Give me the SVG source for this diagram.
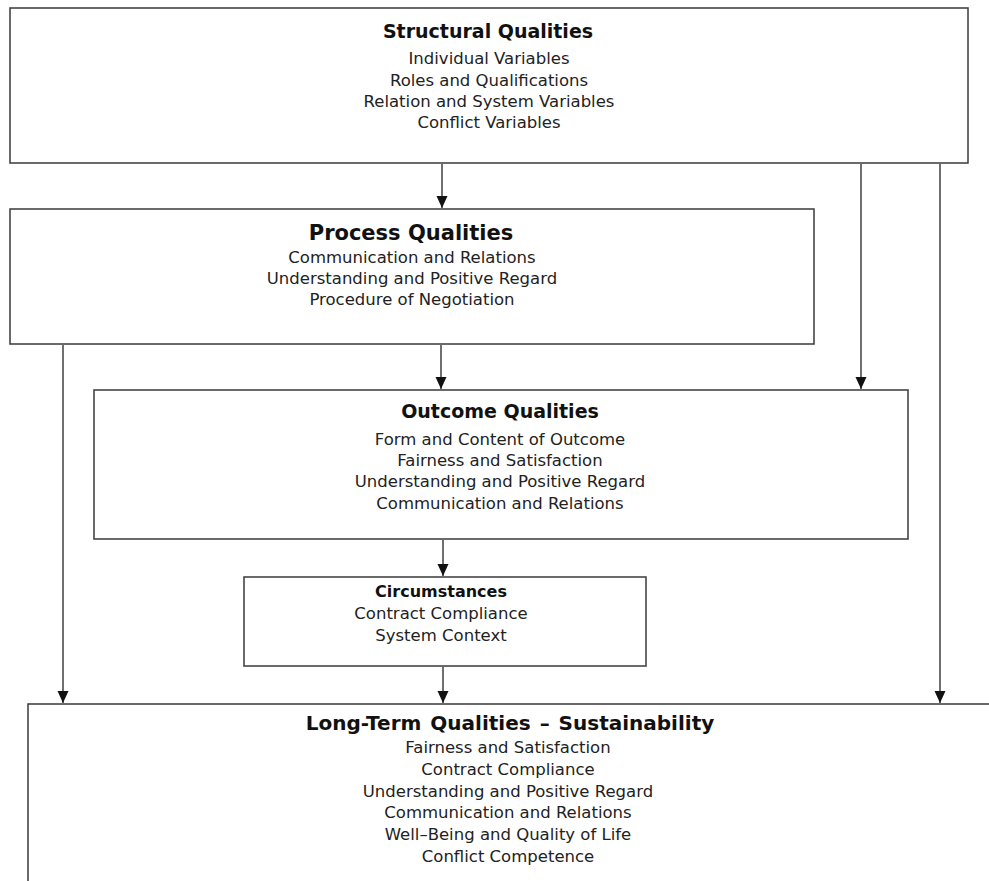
<svg xmlns="http://www.w3.org/2000/svg" width="989" height="881" viewBox="0 0 989 881">
<defs>
<style>
.box{fill:#fff;stroke:#3a3a3a;stroke-width:1.5}
.t{font-family:"DejaVu Sans","Liberation Sans",sans-serif;fill:#111;text-anchor:middle}
.h{font-weight:bold}
.s{font-size:16.5px;fill:#222}
.conn line{stroke:#333;stroke-width:1.4}
</style>
<marker id="ah" markerUnits="userSpaceOnUse" markerWidth="12" markerHeight="12" viewBox="0 0 12 12" refX="6" refY="12" orient="auto-start-reverse">
<path d="M0.5,0 L11.5,0 L6,12 Z" fill="#111" transform="rotate(-90 6 6)"/>
</marker>
<marker id="dn" markerUnits="userSpaceOnUse" markerWidth="12" markerHeight="12" viewBox="0 0 12 12" refX="6" refY="12" orient="0">
<path d="M0.5,0 L11.5,0 L6,12 Z" fill="#111"/>
</marker>
</defs>
<rect width="989" height="881" fill="#fff"/>

<g id="structural">
<rect class="box" x="10" y="8" width="958" height="155"/>
<text class="t h" x="488" y="38" font-size="19">Structural Qualities</text>
<text class="t s" x="489" y="64">Individual Variables</text>
<text class="t s" x="489" y="86">Roles and Qualifications</text>
<text class="t s" x="489" y="107">Relation and System Variables</text>
<text class="t s" x="489" y="128">Conflict Variables</text>
</g>

<g id="process">
<rect class="box" x="10" y="209" width="804" height="135"/>
<text class="t h" x="411" y="240" font-size="21">Process Qualities</text>
<text class="t s" x="412" y="263">Communication and Relations</text>
<text class="t s" x="412" y="284">Understanding and Positive Regard</text>
<text class="t s" x="412" y="305">Procedure of Negotiation</text>
</g>

<g id="outcome">
<rect class="box" x="94" y="390" width="814" height="149"/>
<text class="t h" x="500" y="418" font-size="19">Outcome Qualities</text>
<text class="t s" x="500" y="445">Form and Content of Outcome</text>
<text class="t s" x="500" y="466">Fairness and Satisfaction</text>
<text class="t s" x="500" y="487">Understanding and Positive Regard</text>
<text class="t s" x="500" y="509">Communication and Relations</text>
</g>

<g id="circumstances">
<rect class="box" x="244" y="577" width="402" height="89"/>
<text class="t h" x="441" y="597" font-size="16">Circumstances</text>
<text class="t s" x="441" y="619">Contract Compliance</text>
<text class="t s" x="441" y="641">System Context</text>
</g>

<g id="longterm">
<rect class="box" x="28" y="704" width="1000" height="220"/>
<text class="t h" x="510" y="730" font-size="20" word-spacing="2">Long-Term Qualities – Sustainability</text>
<text class="t s" x="508" y="753">Fairness and Satisfaction</text>
<text class="t s" x="508" y="775">Contract Compliance</text>
<text class="t s" x="508" y="797">Understanding and Positive Regard</text>
<text class="t s" x="508" y="818">Communication and Relations</text>
<text class="t s" x="508" y="840">Well–Being and Quality of Life</text>
<text class="t s" x="508" y="862">Conflict Competence</text>
</g>

<g id="connectors" class="conn">
<line x1="442" y1="164" x2="442" y2="208" marker-end="url(#dn)"/>
<line x1="861" y1="164" x2="861" y2="389" marker-end="url(#dn)"/>
<line x1="940" y1="164" x2="940" y2="703" marker-end="url(#dn)"/>
<line x1="441" y1="345" x2="441" y2="389" marker-end="url(#dn)"/>
<line x1="63" y1="345" x2="63" y2="703" marker-end="url(#dn)"/>
<line x1="443" y1="540" x2="443" y2="576" marker-end="url(#dn)"/>
<line x1="443" y1="667" x2="443" y2="703" marker-end="url(#dn)"/>
</g>
</svg>
